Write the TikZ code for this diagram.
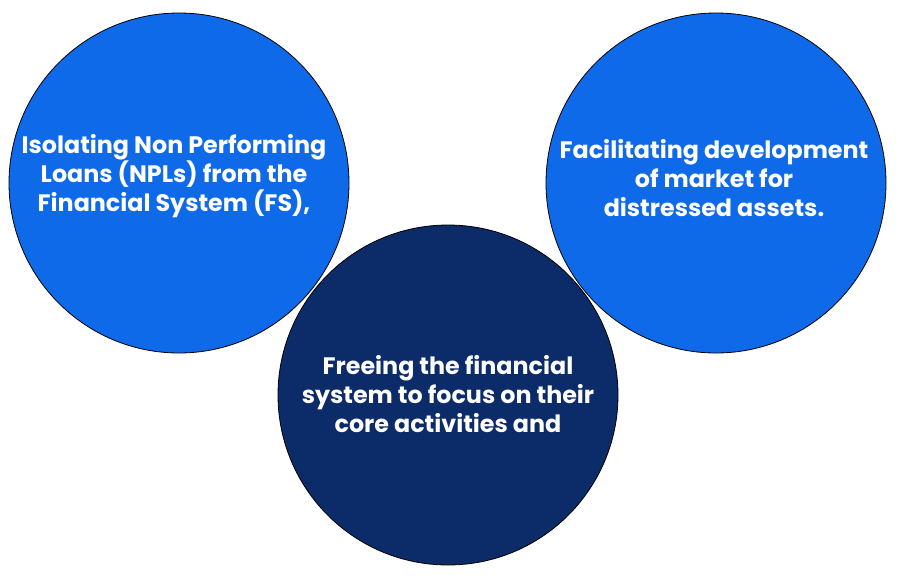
\documentclass[tikz,border=0pt]{standalone}
\usepackage{fontspec}
\setmainfont{Poppins}
\definecolor{BrightBlue}{HTML}{0E6AE8}
\definecolor{DeepNavy}{HTML}{0C2B69}
\usepackage{tikz}
\usetikzlibrary{positioning}

\begin{document}
\begin{tikzpicture}[x=1pt, y=-1pt,
    goalcircle/.style={circle, draw=black, line width=0.8pt, minimum size=340pt, inner sep=0pt},
    goaltext/.style={text=white, align=center, font=\fontsize{23.8}{29}\selectfont\bfseries}]
  \useasboundingbox (0,0) rectangle (900,579);
  % Outer circles
  \node[goalcircle, fill=BrightBlue] (isolate) at (179,183) {};
  \node[goalcircle, fill=BrightBlue] (market) at (716,183) {};
  % Centre circle
  \node[goalcircle, fill=DeepNavy] (freeing) at (448,395) {};
  % Texts
  \node[goaltext] (isolatetext) at (174,176) {Isolating Non Performing\\Loans (NPLs) from the\\Financial System (FS),};
  \node[goaltext] (markettext) at (714,178) {Facilitating development\\of market for\\distressed assets.};
  \node[goaltext] (freeingtext) at (448,394) {Freeing the financial\\system to focus on their\\core activities and};
\end{tikzpicture}
\end{document}
